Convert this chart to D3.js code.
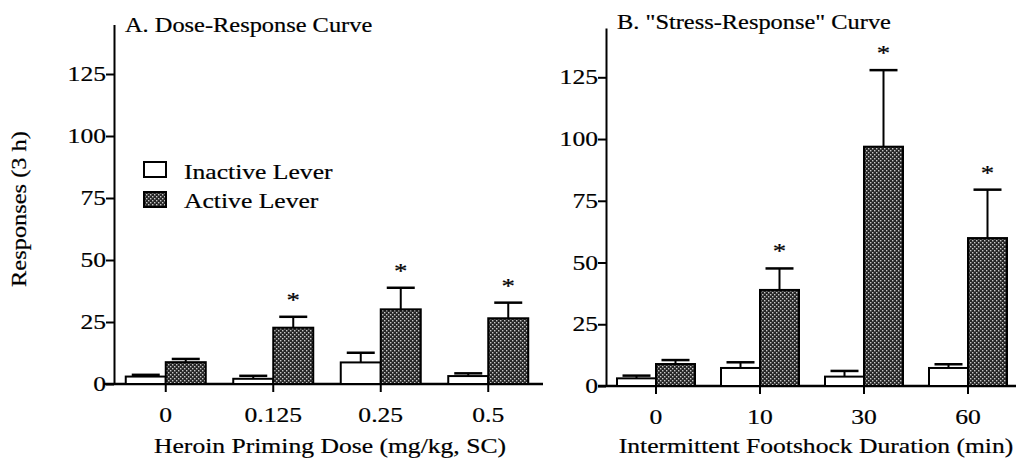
<!DOCTYPE html>
<html>
<head>
<meta charset="utf-8">
<script src="https://cdn.jsdelivr.net/npm/d3@7"></script>
<style>
  body { margin: 0; background: #fff; }
  text { font-family: "Liberation Serif", "Times New Roman", serif; fill: #000; stroke: #000; stroke-width: 0.2px; }
</style>
</head>
<body>
<svg id="chart" width="1016" height="460"></svg>
<script>
// panel A: heroin priming
const doseLabels = ["0", "0.125", "0.25", "0.5"];
const doseInactive = [3, 2.1, 8.7, 3.2];
const doseInactiveErr = [0.7, 1.2, 3.9, 1.1];
const doseActive = [8.8, 22.7, 30.1, 26.5];
const doseActiveErr = [1.3, 4.4, 8.7, 6.3];
const doseStars = [false, true, true, true];

// panel B: footshock
const shockLabels = ["0", "10", "30", "60"];
const shockInactive = [3.1, 7.3, 3.8, 7.3];
const shockInactiveErr = [1.1, 2.3, 2.3, 1.5];
const shockActive = [8.9, 38.9, 96.9, 59.9];
const shockActiveErr = [1.6, 8.7, 31, 19.6];
const shockStars = [false, true, true, true];

const yTicks = [0, 25, 50, 75, 100, 125];
const legendLabels = ["Inactive Lever", "Active Lever"];

const SX = 1.22; // scanned text looks stretched sideways

const svg = d3.select("#chart");

const defs = svg.append("defs");
const pat = defs.append("pattern")
  .attr("id", "stipple")
  .attr("width", 4).attr("height", 4)
  .attr("patternUnits", "userSpaceOnUse");
pat.append("rect").attr("width", 4).attr("height", 4).attr("fill", "#262626");
pat.append("rect").attr("x", 0).attr("y", 0).attr("width", 1.4).attr("height", 1.4).attr("fill", "#c8c8c8");
pat.append("rect").attr("x", 2).attr("y", 2).attr("width", 1.4).attr("height", 1.4).attr("fill", "#c8c8c8");

function label(parent, x, y, str, size, anchor, rot) {
  return parent.append("text")
    .attr("transform", `translate(${x},${y})` + (rot ? ` rotate(${rot})` : "") + ` scale(${SX},1)`)
    .attr("text-anchor", anchor || "start")
    .style("font-size", size + "px")
    .text(str);
}

function panel(cfg) {
  const x = d3.scaleBand().domain(cfg.labels).range(cfg.xRange);
  const y = d3.scaleLinear().domain([0, 145]).range(cfg.yRange);
  const g = svg.append("g");

  // y axis
  const yAx = g.append("g")
    .attr("transform", `translate(${cfg.yAxisX},0)`)
    .call(d3.axisLeft(y).tickValues(yTicks).tickSize(8).tickSizeOuter(0).tickFormat(""));
  yAx.selectAll("path, line").attr("stroke", "#000").attr("stroke-width", 2);

  yTicks.forEach(t => label(g, cfg.yAxisX - 8, y(t) + 7, t, 21, "end"));

  // x axis
  const xAx = g.append("g")
    .attr("transform", `translate(0,${y(0)})`)
    .call(d3.axisBottom(x).tickSize(8).tickSizeOuter(0).tickFormat(""));
  xAx.select(".domain").remove();
  xAx.selectAll("line").attr("stroke", "#000").attr("stroke-width", 2);
  g.append("line")
    .attr("x1", cfg.axisLine[0]).attr("x2", cfg.axisLine[1])
    .attr("y1", y(0)).attr("y2", y(0))
    .attr("stroke", "#000").attr("stroke-width", 2.5);

  cfg.labels.forEach(l => label(g, x(l) + x.bandwidth() / 2, y(0) + 38, l, 21, "middle"));

  const bw = cfg.barW;
  const series = [
    { vals: cfg.inactive, errs: cfg.inactiveErr, off: -bw, fill: "#fff" },
    { vals: cfg.active, errs: cfg.activeErr, off: 0, fill: "url(#stipple)" }
  ];
  series.forEach(s => {
    cfg.labels.forEach((l, i) => {
      const cx = x(l) + x.bandwidth() / 2 + s.off;
      const top = y(s.vals[i]);
      const capY = y(s.vals[i] + s.errs[i]);
      g.append("line")
        .attr("x1", cx + bw / 2).attr("x2", cx + bw / 2)
        .attr("y1", top).attr("y2", capY)
        .attr("stroke", "#000").attr("stroke-width", 2);
      g.append("line")
        .attr("x1", cx + bw / 2 - 14).attr("x2", cx + bw / 2 + 14)
        .attr("y1", capY).attr("y2", capY)
        .attr("stroke", "#000").attr("stroke-width", 2.5);
      g.append("rect")
        .attr("x", cx).attr("y", top)
        .attr("width", bw).attr("height", y(0) - top)
        .attr("fill", s.fill).attr("stroke", "#000").attr("stroke-width", 2);
    });
  });

  cfg.labels.forEach((l, i) => {
    if (!cfg.stars[i]) return;
    const capY = y(cfg.active[i] + cfg.activeErr[i]);
    label(g, x(l) + x.bandwidth() / 2 + bw / 2, capY - 22 + 12, "*", 22, "middle");
  });

  label(g, cfg.titleX, cfg.titleY, cfg.title, 20, "start");
  label(g, cfg.xTitleX, 453, cfg.xTitle, 21, "middle");
}

panel({
  labels: doseLabels, inactive: doseInactive, inactiveErr: doseInactiveErr,
  active: doseActive, activeErr: doseActiveErr, stars: doseStars,
  xRange: [112, 542], yRange: [384, 24.4], yAxisX: 114, axisLine: [104, 543], barW: 40,
  title: "A. Dose-Response Curve", titleX: 125, titleY: 32,
  xTitle: "Heroin Priming Dose (mg/kg, SC)", xTitleX: 330
});

panel({
  labels: shockLabels, inactive: shockInactive, inactiveErr: shockInactiveErr,
  active: shockActive, activeErr: shockActiveErr, stars: shockStars,
  xRange: [604, 1020], yRange: [386, 27.9], yAxisX: 606, axisLine: [598, 1016], barW: 39,
  title: "B. \"Stress-Response\" Curve", titleX: 617, titleY: 29,
  xTitle: "Intermittent Footshock Duration (min)", xTitleX: 816
});

// y axis title
label(svg, 26, 209, "Responses (3 h)", 20, "middle", -90);

// legend
const legend = svg.append("g");
legendLabels.forEach((t, i) => {
  legend.append("rect")
    .attr("x", 144).attr("y", 162 + i * 30)
    .attr("width", 22).attr("height", 15)
    .attr("fill", i === 0 ? "#fff" : "url(#stipple)")
    .attr("stroke", "#000").attr("stroke-width", 2);
  label(legend, 184, 179 + i * 29, t, 21, "start");
});
</script>
</body>
</html>
